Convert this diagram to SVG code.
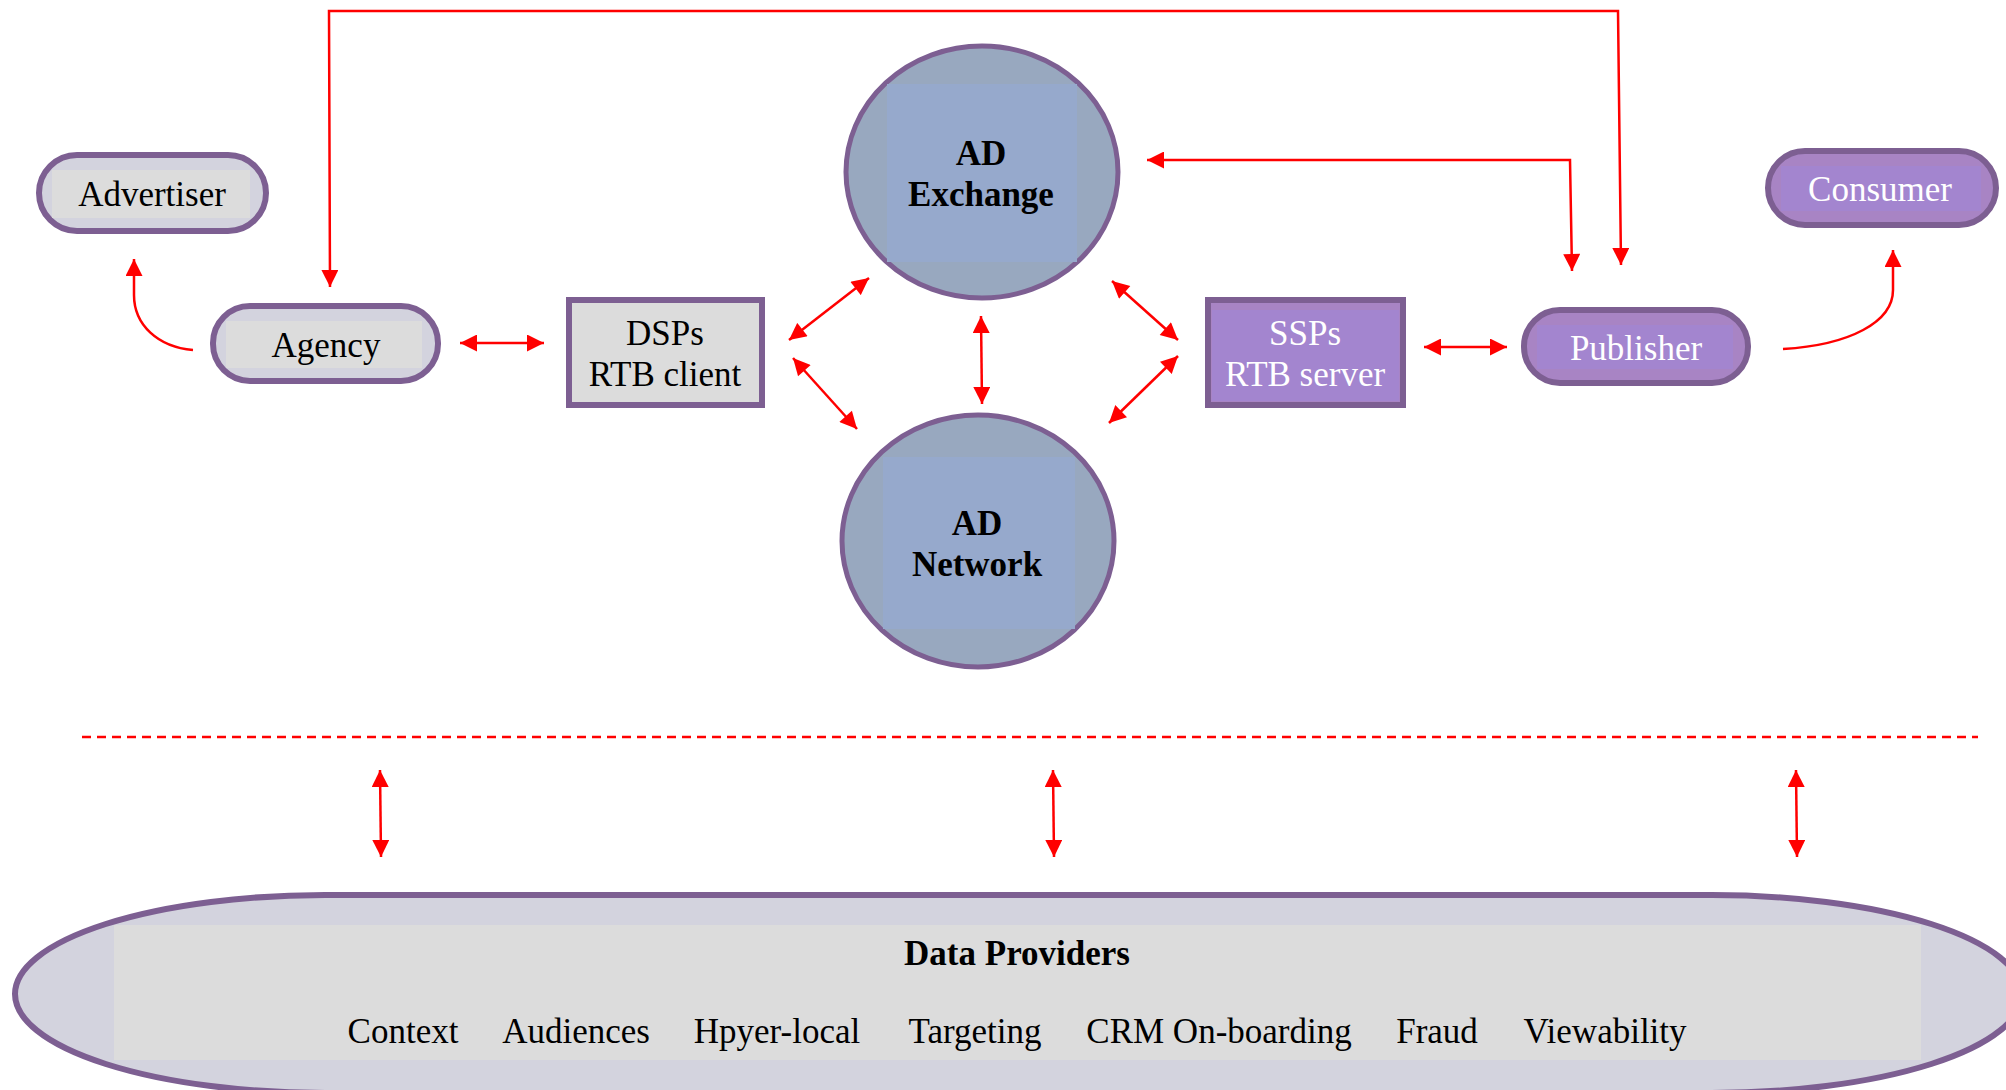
<svg xmlns="http://www.w3.org/2000/svg" width="2006" height="1090" viewBox="0 0 2006 1090">
<style>
  .lbl { font-family: "Liberation Serif", "Times New Roman", serif; font-size: 35px; text-anchor: middle; fill: #000; }
  .bold { font-weight: bold; }
  .wht { fill: #ffffff; }
  .grayNode { fill: #d3d3de; stroke: #7d5f92; stroke-width: 6; }
  .grayInner { fill: #dcdcdc; }
  .purpNode { fill: #a884c4; stroke: #7d5f92; stroke-width: 6; }
  .purpInner { fill: #a385cf; }
  .circ { fill: #98a8bf; stroke: #7d5f92; stroke-width: 5; }
  .circInner { fill: #96a9cc; }
  .conn { fill: none; stroke: #ff0000; stroke-width: 2.5; }
</style>
<defs>
  <marker id="ah" viewBox="0 0 10 10" refX="10" refY="5" markerWidth="18" markerHeight="17" markerUnits="userSpaceOnUse" orient="auto-start-reverse">
    <path d="M0,0 L10,5 L0,10 z" fill="#ff0000"/>
  </marker>
</defs>
<rect width="2006" height="1090" fill="#ffffff"/>

<g id="advertiser">
  <rect class="grayNode" x="39" y="155" width="227" height="76" rx="38"/>
  <rect class="grayInner" x="52" y="170" width="198" height="48"/>
  <text class="lbl" x="152" y="206">Advertiser</text>
</g>

<g id="agency">
  <rect class="grayNode" x="213" y="306" width="225" height="75" rx="37"/>
  <rect class="grayInner" x="226" y="321" width="196" height="47"/>
  <text class="lbl" x="326" y="357">Agency</text>
</g>

<g id="dsps">
  <rect class="grayNode" x="569" y="300" width="193" height="105" stroke-width="5" fill="#dcdcdc" style="fill:#dcdcdc"/>
  <text class="lbl" x="665" y="345">DSPs</text>
  <text class="lbl" x="665" y="386">RTB client</text>
</g>

<g id="ad-exchange">
  <ellipse class="circ" cx="982" cy="172" rx="136" ry="126"/>
  <rect class="circInner" x="887" y="84" width="190" height="178"/>
  <text class="lbl bold" x="981" y="165">AD</text>
  <text class="lbl bold" x="981" y="206">Exchange</text>
</g>

<g id="ad-network">
  <ellipse class="circ" cx="978" cy="541" rx="136" ry="126"/>
  <rect class="circInner" x="883" y="457" width="192" height="172"/>
  <text class="lbl bold" x="977" y="535">AD</text>
  <text class="lbl bold" x="977" y="576">Network</text>
</g>

<g id="ssps">
  <rect class="purpNode" x="1208" y="300" width="195" height="105" stroke-width="5"/>
  <rect class="purpInner" x="1212" y="310" width="187" height="91"/>
  <text class="lbl wht" x="1305" y="345">SSPs</text>
  <text class="lbl wht" x="1305" y="386">RTB server</text>
</g>

<g id="publisher">
  <rect class="purpNode" x="1524" y="310" width="224" height="73" rx="36"/>
  <rect class="purpInner" x="1537" y="325" width="196" height="44"/>
  <text class="lbl wht" x="1636" y="360">Publisher</text>
</g>

<g id="consumer">
  <rect class="purpNode" x="1768" y="151" width="228" height="74" rx="37"/>
  <rect class="purpInner" x="1781" y="166" width="200" height="45"/>
  <text class="lbl wht" x="1880" y="201">Consumer</text>
</g>

<g id="data-providers">
  <path d="M325,895 H1712 A310 99 0 0 1 1712 1093 H325 A310 99 0 0 1 325 895 Z" fill="#d3d3de" stroke="#7d5f92" stroke-width="6"/>
  <rect class="grayInner" x="114" y="925" width="1807" height="135"/>
  <text class="lbl bold" x="1017" y="965">Data Providers</text>
  <text class="lbl" x="403" y="1043">Context</text>
  <text class="lbl" x="576" y="1043">Audiences</text>
  <text class="lbl" x="777" y="1043">Hpyer-local</text>
  <text class="lbl" x="975" y="1043">Targeting</text>
  <text class="lbl" x="1219" y="1043">CRM On-boarding</text>
  <text class="lbl" x="1437" y="1043">Fraud</text>
  <text class="lbl" x="1605" y="1043">Viewability</text>
</g>

<g id="connectors">
  <path class="conn" d="M330,287 L329,11 L1618,11 L1621,265" marker-start="url(#ah)" marker-end="url(#ah)"/>
  <path class="conn" d="M1147,160 H1570 L1572,271" marker-start="url(#ah)" marker-end="url(#ah)"/>
  <path class="conn" d="M193,350 C158,347 134,325 134,295 L134,259" marker-end="url(#ah)"/>
  <path class="conn" d="M1783,349 C1850,345 1893,322 1893,290 L1893,250" marker-end="url(#ah)"/>
  <line class="conn" x1="460" y1="343" x2="544" y2="343" marker-start="url(#ah)" marker-end="url(#ah)"/>
  <line class="conn" x1="1424" y1="347" x2="1507" y2="347" marker-start="url(#ah)" marker-end="url(#ah)"/>
  <line class="conn" x1="789" y1="340" x2="869" y2="278" marker-start="url(#ah)" marker-end="url(#ah)"/>
  <line class="conn" x1="793" y1="358" x2="857" y2="429" marker-start="url(#ah)" marker-end="url(#ah)"/>
  <line class="conn" x1="981" y1="316" x2="982" y2="404" marker-start="url(#ah)" marker-end="url(#ah)"/>
  <line class="conn" x1="1112" y1="281" x2="1178" y2="340" marker-start="url(#ah)" marker-end="url(#ah)"/>
  <line class="conn" x1="1109" y1="423" x2="1178" y2="356" marker-start="url(#ah)" marker-end="url(#ah)"/>
  <line class="conn" x1="82" y1="737" x2="1978" y2="737" stroke-dasharray="9 6"/>
  <line class="conn" x1="380" y1="770" x2="381" y2="857" marker-start="url(#ah)" marker-end="url(#ah)"/>
  <line class="conn" x1="1053" y1="770" x2="1054" y2="857" marker-start="url(#ah)" marker-end="url(#ah)"/>
  <line class="conn" x1="1796" y1="770" x2="1797" y2="857" marker-start="url(#ah)" marker-end="url(#ah)"/>
</g>
</svg>
